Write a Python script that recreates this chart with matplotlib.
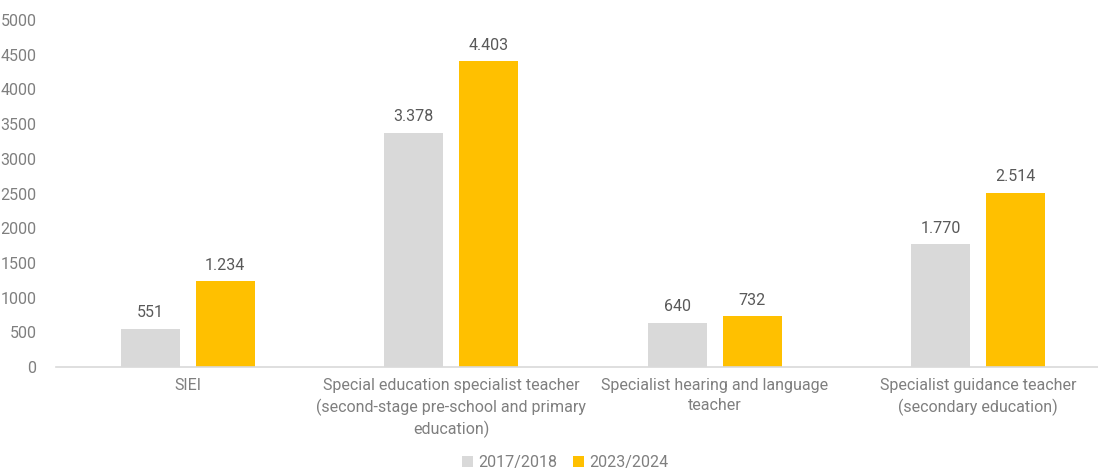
import numpy as np
import matplotlib
matplotlib.use('Agg')
import matplotlib.pyplot as plt

categories = [
    "SIEI",
    "Special education specialist teacher\n(second-stage pre-school and primary\neducation)",
    "Specialist hearing and language\nteacher",
    "Specialist guidance teacher\n(secondary education)",
]
years = ["2017/2018", "2023/2024"]
values_2017 = [551, 3378, 640, 1770]
values_2023 = [1234, 4403, 732, 2514]
colors = ["#d9d9d9", "#ffc000"]

plt.rcParams['font.family'] = ['Roboto', 'DejaVu Sans']


def fmt(v):
    return f"{v:,}".replace(",", ".")


fig = plt.figure(figsize=(10.98, 4.70), dpi=100)
ax = fig.add_axes([56 / 1098, 103 / 470, 1054 / 1098, 347 / 470])

x = np.arange(len(categories))
w = 0.224
off = 0.142
for i, (vals, col, lab) in enumerate(zip([values_2017, values_2023], colors, years)):
    bars = ax.bar(x + (i * 2 - 1) * off, vals, width=w, color=col, label=lab)
    for b, v in zip(bars, vals):
        ax.annotate(fmt(v), (b.get_x() + b.get_width() / 2, v),
                    xytext=(0, 6), textcoords='offset points',
                    ha='center', va='bottom', fontsize=11.5, color='#595959')

ax.set_xlim(-0.5, len(categories) - 0.5)
ax.set_ylim(0, 5000)
ax.set_yticks(range(0, 5001, 500))
ax.set_xticks(x)
ax.set_xticklabels(categories, fontsize=11.5, color='#7f7f7f', linespacing=1.4)
ax.tick_params(axis='y', labelsize=11.5, labelcolor='#7f7f7f', length=0, pad=14)
ax.tick_params(axis='x', length=0, pad=8)

for s in ['top', 'right', 'left']:
    ax.spines[s].set_visible(False)
ax.spines['bottom'].set_color('#d9d9d9')
ax.spines['bottom'].set_linewidth(1.2)

fig.legend(loc='lower center', bbox_to_anchor=(565 / 1098, -0.03), ncol=2,
           frameon=False, fontsize=11.5, labelcolor='#7f7f7f',
           handlelength=0.7, handleheight=0.7, handletextpad=0.3, columnspacing=1.0)

fig.savefig("out.png", dpi=100)
